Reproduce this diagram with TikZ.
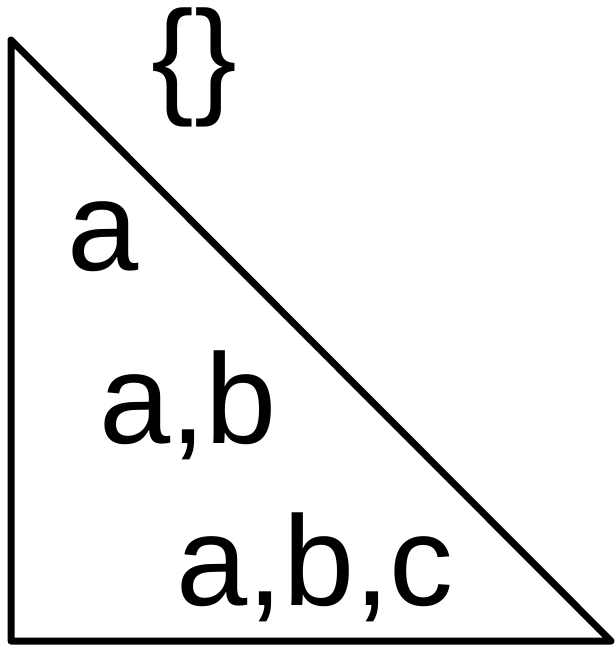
\documentclass[tikz,border=0pt]{standalone}
\usepackage{fontspec}
\setmainfont{Liberation Sans}
\usetikzlibrary{positioning}

\begin{document}
\begin{tikzpicture}[
  x=1pt, y=-1pt,
  edge/.style={line width=7pt, line join=round},
  setlabel/.style={anchor=base, inner sep=0pt, font=\fontsize{128}{140}\selectfont}
]

% Bounding box
\useasboundingbox (0,0) rectangle (616,649);

% Corners
\coordinate (top) at (11,40);
\coordinate (corner) at (11,641);
\coordinate (right) at (611,641);

% Triangle
\draw[edge] (top) -- (corner) -- (right) -- cycle;

% Labels
\node[setlabel] (empty) at (194,100) {\{\}};
\node[setlabel] (sa) at (103,270) {a};
\node[setlabel] (sab) at (188,443) {a,b};
\node[setlabel] (sabc) at (315,605) {a,b,c};

\end{tikzpicture}
\end{document}
